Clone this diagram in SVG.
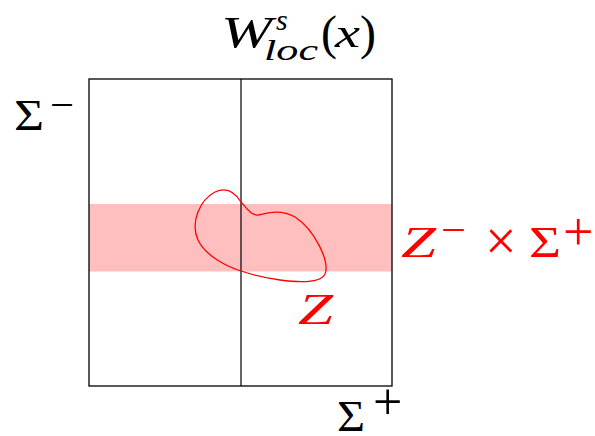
<svg xmlns="http://www.w3.org/2000/svg" width="595" height="436" viewBox="0 0 595 436">
<style>
.m{font-family:"Liberation Serif","DejaVu Serif",serif;font-style:italic}
.r{font-family:"Liberation Serif","DejaVu Serif",serif}
.red{fill:#ff0000}
</style>
<rect width="595" height="436" fill="#fff"/>
<g id="band"><rect x="89" y="204" width="303" height="67.5" fill="#ffbfbf"/></g>
<g id="square"><rect x="89" y="79" width="303" height="307" fill="none" stroke="#000" stroke-width="1.3"/></g>
<g id="connectors"><line x1="241" y1="79" x2="241" y2="386" stroke="#000" stroke-width="1.2"/></g>
<g id="Zcurve"><path d="M241,202 C248,210 252,216 259,215 C268,213 280,209 295,217 C315,230 330,262 325,274 C320,284 295,282 280,280 C265,278 250,274 241,271 C225,266 205,255 198,240 C190,222 200,200 215,192 C228,186 236,194 241,202 Z" fill="none" stroke="#ff0000" stroke-width="1.3"/></g>
<g id="title">
<text class="m" x="221" y="47" font-size="44" textLength="51" lengthAdjust="spacingAndGlyphs">W</text>
<text class="m" x="276" y="30" font-size="30">s</text>
<text class="m" x="264" y="60" font-size="30" textLength="54" lengthAdjust="spacingAndGlyphs">loc</text>
<text class="r" x="321" y="49" font-size="48">(</text>
<text class="m" x="335" y="47" font-size="42" textLength="25" lengthAdjust="spacingAndGlyphs">x</text>
<text class="r" x="360" y="49" font-size="48">)</text>
</g>
<g id="sigma-minus"><text class="r" x="14" y="130" font-size="44" textLength="30" lengthAdjust="spacingAndGlyphs">Σ</text><text class="r" x="50" y="118" font-size="40" textLength="24" lengthAdjust="spacingAndGlyphs">−</text></g>
<g id="sigma-plus"><text class="r" x="337" y="431" font-size="44" textLength="28" lengthAdjust="spacingAndGlyphs">Σ</text><text class="r" x="373" y="419" font-size="52">+</text></g>
<g id="label-zs" class="red">
<text class="m" x="401" y="257" font-size="44" textLength="35" lengthAdjust="spacingAndGlyphs">Z</text>
<text class="r" x="441" y="243" font-size="40" textLength="25" lengthAdjust="spacingAndGlyphs">−</text>
<text class="r" x="485" y="260" font-size="56">×</text>
<text class="r" x="529" y="257" font-size="44" textLength="32" lengthAdjust="spacingAndGlyphs">Σ</text>
<text class="r" x="563" y="250" font-size="54">+</text>
</g>
<g id="label-z" class="red"><text class="m" x="298" y="324" font-size="44" textLength="35" lengthAdjust="spacingAndGlyphs">Z</text></g>
</svg>
